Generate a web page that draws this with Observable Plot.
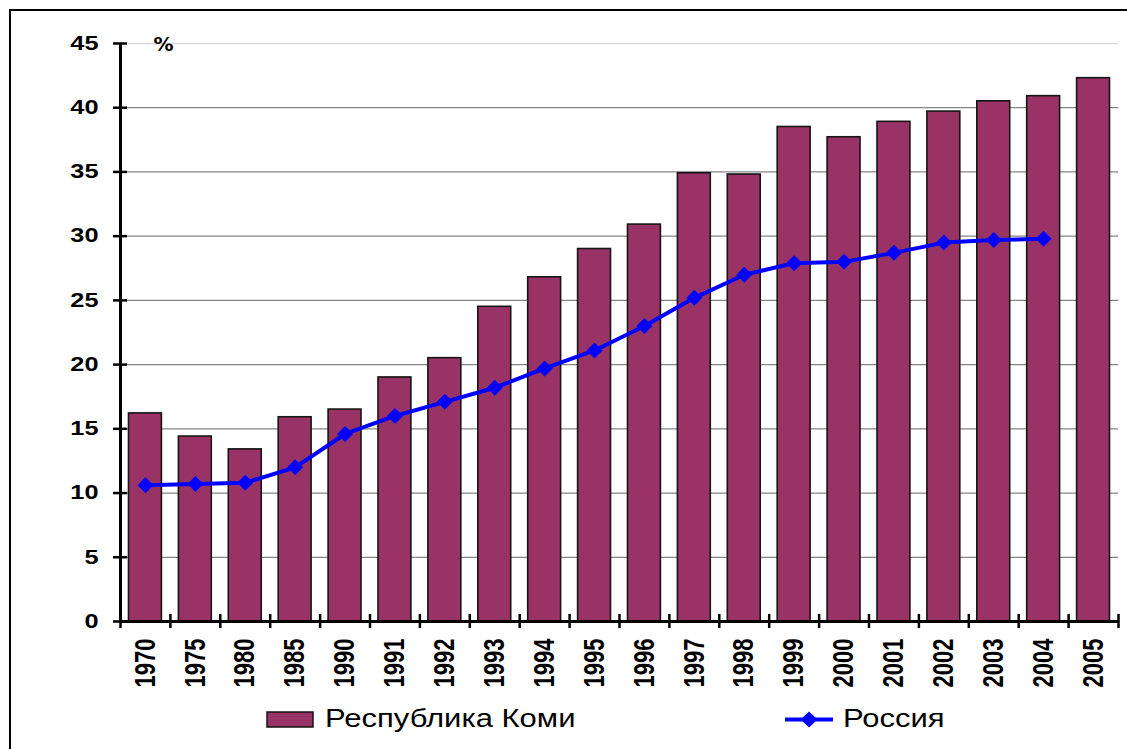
<!DOCTYPE html>
<html><head><meta charset="utf-8">
<script src="https://cdn.jsdelivr.net/npm/d3@7"></script>
<script src="https://cdn.jsdelivr.net/npm/@observablehq/plot@0.6"></script>
<style>
html,body{margin:0;padding:0;background:#fff;overflow:hidden;}
#wrap{position:relative;width:1127px;height:749px;overflow:hidden;background:#fff;}
#border{position:absolute;left:9px;top:9px;width:1300px;height:900px;border:2px solid #000;box-sizing:border-box;}
#chart{position:absolute;left:0;top:0;}
#legend{position:absolute;left:0;top:690px;}
</style></head>
<body>
<div id="wrap"><div id="border"></div><div id="chart"></div><div id="legend"></div></div>
<script>
const years = ["1970","1975","1980","1985","1990","1991","1992","1993","1994","1995","1996","1997","1998","1999","2000","2001","2002","2003","2004","2005"];
const komi = [16.2,14.4,13.4,15.9,16.5,19.0,20.5,24.5,26.8,29.0,30.9,34.9,34.8,38.5,37.7,38.9,39.7,40.5,40.9,42.3];
const russia = [10.6,10.7,10.8,12.0,14.6,16.0,17.1,18.2,19.7,21.1,23.0,25.2,27.0,27.9,28.0,28.7,29.5,29.7,29.8,null];
const yTicks = [0,5,10,15,20,25,30,35,40,45];
const seriesNames = ["Республика Коми","Россия"];
const colors = {komi:"#993366", russia:"#0000ff"};

const rows = years.map((year,i)=>({i, year, komi: komi[i], russia: russia[i]}));
const russiaRows = rows.filter(d=>d.russia!=null);
const n = years.length;
const arial = "'Liberation Sans', Arial, sans-serif";
const dejavu = "'DejaVu Sans', sans-serif";
// half-length of the crossing tick marks, in data units of each axis
const xTickHalf = 0.14, yTickHalf = 0.55;

const plot = Plot.plot({
  width: 1127, height: 700,
  marginTop: 43, marginBottom: 79, marginLeft: 120, marginRight: 9,
  x: {domain: [0, n], axis: null},
  y: {domain: [0, 45], axis: null},
  style: {fontFamily: arial, background: "transparent", overflow: "visible", color: "#000"},
  marks: [
    Plot.ruleY(yTicks.filter(v=>v>0 && v<45), {x1: 0, x2: n, stroke: "#858585", strokeWidth: 1.3}),
    Plot.ruleY([45], {x1: 0, x2: n, stroke: "#d8d8d8", strokeWidth: 1.3}),
    Plot.rectY(rows, {x1: "i", x2: d=>d.i+1, y: "komi", insetLeft: 8.5, insetRight: 8.5, fill: colors.komi, stroke: "#151515", strokeWidth: 1.6}),
    Plot.ruleX([0], {y1: 0, y2: 45, stroke: "#000", strokeWidth: 3}),
    Plot.ruleY([0], {x1: 0, x2: n, stroke: "#000", strokeWidth: 3}),
    Plot.ruleY(yTicks, {x1: -xTickHalf, x2: xTickHalf, stroke: "#000", strokeWidth: 2.5}),
    Plot.ruleX(d3.range(n+1), {y1: -yTickHalf, y2: yTickHalf, stroke: "#000", strokeWidth: 2.5}),
    Plot.axisY({ticks: yTicks, label: null, tickSize: 0, tickPadding: 22, fontSize: 19.5, fontWeight: "bold", fontFamily: arial, fill: "#000"}),
    Plot.axisX({ticks: rows.map(d=>d.i+0.5), label: null, tickFormat: v=>years[Math.floor(v)], tickSize: 0, tickPadding: 17, tickRotate: -90, fontSize: 22, fontWeight: "bold", fontFamily: arial, fill: "#000"}),
    Plot.line(russiaRows, {x: d=>d.i+0.5, y: "russia", stroke: colors.russia, strokeWidth: 4}),
    Plot.dot(russiaRows, {x: d=>d.i+0.5, y: "russia", symbol: "diamond2", r: 7.2, fill: colors.russia, stroke: "none"}),
    Plot.text(["%"], {x: 0, y: 45, text: d=>d, dx: 33, dy: -7, textAnchor: "start", lineAnchor: "top", fontSize: 20, fontWeight: "bold", fontFamily: dejavu, fill: "#000"})
  ]
});
// widen the axis labels (the reference's text is stretched horizontally)
d3.select(plot).selectAll('g[aria-label="x-axis tick label"] text')
  .attr("transform", function(){ const t = this.getAttribute("transform") || ""; return t + " scale(1,1.3)"; });
d3.select(plot).selectAll('g[aria-label="y-axis tick label"] text')
  .attr("transform", function(){ const t = this.getAttribute("transform"); return t ? t + " scale(1.3,1)" : null; });
document.getElementById("chart").appendChild(plot);

// legend
const lg = d3.select("#legend").append("svg").attr("width", 1127).attr("height", 59);
lg.append("rect").attr("x", 267).attr("y", 22).attr("width", 46).attr("height", 15)
  .attr("fill", colors.komi).attr("stroke", "#151515").attr("stroke-width", 1.5);
lg.append("text").attr("transform", "translate(325,37) scale(1.24,1)")
  .attr("font-family", arial).attr("font-size", 25).attr("fill", "#000")
  .text(seriesNames[0]);
lg.append("line").attr("x1", 785).attr("x2", 833).attr("y1", 29.5).attr("y2", 29.5)
  .attr("stroke", colors.russia).attr("stroke-width", 4);
lg.append("path").attr("d", "M809,21.5 L817.5,29.5 L809,37.5 L800.5,29.5 Z").attr("fill", colors.russia);
lg.append("text").attr("transform", "translate(843,37) scale(1.24,1)")
  .attr("font-family", arial).attr("font-size", 25).attr("fill", "#000")
  .text(seriesNames[1]);
</script>
</body></html>
